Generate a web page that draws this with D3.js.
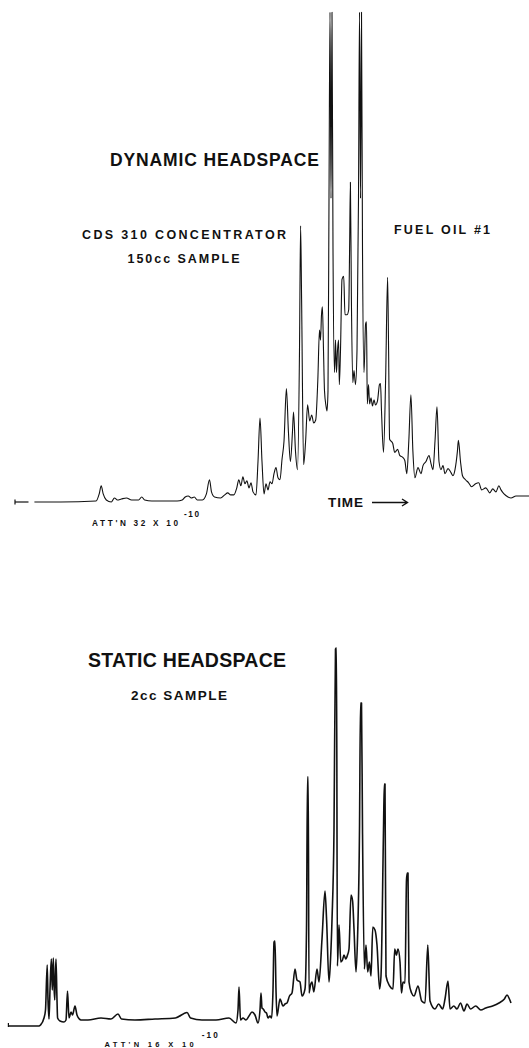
<!DOCTYPE html>
<html>
<head>
<meta charset="utf-8">
<script src="https://cdn.jsdelivr.net/npm/d3@7"></script>
<style>
  body { margin: 0; background: #fff; }
  svg { display: block; }
  .lbl { font-family: "Liberation Sans", Arial, sans-serif; font-weight: bold; fill: #111; }
</style>
</head>
<body>
<div id="chart"></div>
<script>
var svgWidth = 529;
var svgHeight = 1048;

// Dynamic headspace trace: [time, detector response]
var dynamicTrace = [
  [34.4,0],[60.7,0],[96.1,1],[99.2,8],[101.2,16],[103.2,8],[106.3,2],[111.3,0],[114.4,4],[117.4,2],
  [121.4,3],[126.5,4],[131.6,2],[138.6,2],[141.7,5],[144.7,2],[151.8,1],[161.9,1],[177.1,1],[182.2,2],
  [185.2,5],[188.2,6],[191.3,4],[194.3,5],[197.3,2],[202.4,2],[206.4,8],[209.5,22],[211.5,10],[214.5,5],
  [220.6,4],[224.7,7],[227.7,9],[230.7,7],[233.8,7],[236.8,14],[238.8,22],[240.9,16],[242.9,25],[244.9,18],
  [246.9,21],[249,14],[251,19],[253,10],[256,7],[258,40],[260,83],[262,40],[264,8],[266,18],
  [268,12],[270,20],[272,18],[274,28],[276,34],[278,24],[280,22],[282,42],[284,60],[286.4,112],
  [288.4,70],[290.4,40],[292.5,70],[293.5,89],[295.5,50],[297.5,32],[299.5,150],[300.6,273],[301.6,200],[303.6,37],
  [305.6,60],[307.6,96],[309.7,80],[311.7,86],[313.7,78],[315.7,81],[317.8,120],[319.5,170],[320.5,160],[321.5,185],
  [322.4,193],[323.5,150],[324.5,110],[326,95],[327,90],[328,110],[329,300],[330,484],[331,300],[332,484],
  [333,250],[334.5,128],[335.5,160],[336.5,128],[337.5,150],[338.6,160],[339.3,116],[340.5,150],[342,220],[343.7,223],
  [345,185],[347,185],[348.7,190],[349.6,250],[350.4,316],[351.4,200],[352.8,118],[354,130],[355.5,116],[357,150],
  [358.5,300],[359.5,484],[360.5,300],[361.5,484],[362.5,250],[364,128],[365.6,176],[366.5,178],[367.3,97],[368.5,116],
  [369.6,97],[371,103],[372.5,95],[374,101],[375.5,96],[377.5,100],[379.5,116],[380.5,117],[381.5,90],[383.5,49],
  [385.6,120],[387.6,222],[388.6,150],[389.6,62],[392.7,58],[394.7,49],[397.7,52],[399.7,46],[402.8,44],[404.8,41],
  [406.8,28],[408.8,60],[410.9,106],[412.9,50],[414.9,24],[418,34],[421,28],[423,36],[426,40],[429,46],
  [431,38],[433,32],[435,60],[437,94],[439,40],[441,32],[443,36],[445,28],[448,33],[451,29],
  [453,26],[455,32],[457.4,50],[458.4,61],[460.5,40],[462.5,26],[465.5,22],[468.6,19],[471.6,15],[475.6,18],
  [478.7,19],[481.7,12],[485.8,14],[489.8,9],[492.8,13],[495.9,10],[498.9,16],[501,12],[504,8],[508,5],
  [511,4],[516,6],[521,6],[526,6],[529,6]
];
var dynamicStart = [[15,0],[28.5,0]];

// Static headspace trace: [time, detector response]
var staticTrace = [
  [8.4,4],[39,4],[40.5,5],[44,12],[45.5,20],[47.2,65],[48,30],[49,11],[50,40],[51.3,71],
  [52.3,40],[53.3,72],[54,45],[54.7,30],[55.3,50],[56,71],[57,30],[57.6,12],[60,9],[64,8],
  [66,10],[67.5,39],[69,12],[71,18],[72.5,15],[75,24],[77,15],[81,10],[88,10],[101,12],
  [111,11],[118,16],[121.5,11],[135,10],[155,11],[175.4,12],[187,17.5],[190.6,12],[202,10],[216,10],
  [229,12],[236,7],[238,20],[239,43],[240.5,10],[243,12],[246,10],[249,14],[252,18],[255,15],
  [258,7],[260,20],[261,37],[262,22],[263.2,21],[265,18],[266.5,17],[268,12],[270,14],[271.6,12],
  [273,40],[274,88],[275,89],[276,40],[277,14],[280,31],[283,24],[285,26],[287,27],[289.5,34],
  [292,37],[295,61],[297,50],[300,48],[302,34],[305,41],[306.5,100],[307.5,253],[308.2,253],[309,37],
  [310.5,45],[312,48],[313.8,38],[317,61],[319,48],[322,91],[325,139],[326.6,110],[329,48],[330.5,70],
  [332,110],[334,200],[335.5,381],[336.5,382],[337.4,64],[339,105],[340.8,68],[342.5,70],[344,75],[345.8,71],
  [347.5,75],[349,81],[351,135],[352.6,129],[354,101],[356,58],[357.6,94],[359.5,200],[360.5,327],[361.5,327],
  [362.5,200],[364.4,61],[366,85],[367.7,58],[369.4,68],[371,54],[372.8,103],[375,100],[377,85],[379.6,41],
  [381,54],[383.5,200],[384.3,246],[385,246],[386,54],[389.7,44],[393,41],[394.7,81],[396.4,75],[398,81],
  [400,68],[401.5,37],[403,48],[405,47],[406.5,150],[407.3,157],[408,157],[409,48],[411.6,37],[414,34],
  [418,44],[421.7,29],[425,27],[427.8,85],[430,29],[435,21],[438.6,26],[442.6,21],[445,31],[448,49],
  [450,21],[453.8,24],[457,21],[460.5,27],[464,19],[467,26],[470.6,21],[475.7,24],[480.8,20],[485.8,22],
  [492.6,24],[499,27],[504.4,31],[507,35],[509.4,31],[511,27]
];
var staticStart = [[8.4,4],[12,4]];

var titles = ["DYNAMIC HEADSPACE", "STATIC HEADSPACE"];
var notes = ["CDS 310 CONCENTRATOR", "150cc SAMPLE", "FUEL OIL #1", "2cc SAMPLE"];
var attLabels = ["ATT'N 32 X 10", "ATT'N 16 X 10"];
var attExp = "-10";
var axisLabel = "TIME";

var svg = d3.select("#chart")
  .append("svg")
  .attr("width", svgWidth)
  .attr("height", svgHeight);

svg.append("rect").attr("width", svgWidth).attr("height", svgHeight).attr("fill", "#fff");

// shared time scale, one response scale per chromatogram
var xScale = d3.scaleLinear().domain([0, 529]).range([0, 529]);
var yTop = d3.scaleLinear().domain([0, 500]).range([502, -4]);
var yBottom = d3.scaleLinear().domain([0, 400]).range([1030, 630]);

var lineTop = d3.line()
  .x(d => xScale(d[0]))
  .y(d => yTop(d[1]))
  .curve(d3.curveMonotoneX);

var lineBottom = d3.line()
  .x(d => xScale(d[0]))
  .y(d => yBottom(d[1]))
  .curve(d3.curveMonotoneX);

svg.append("path")
  .datum(dynamicTrace)
  .attr("d", lineTop)
  .attr("fill", "none")
  .attr("stroke", "#111")
  .attr("stroke-width", 1.1)
  .attr("stroke-linejoin", "round");

svg.append("path")
  .datum(dynamicStart)
  .attr("d", d3.line().x(d => xScale(d[0])).y(d => yTop(d[1])))
  .attr("fill", "none")
  .attr("stroke", "#111")
  .attr("stroke-width", 1.2);

svg.append("line")
  .attr("x1", xScale(dynamicStart[0][0])).attr("x2", xScale(dynamicStart[0][0]))
  .attr("y1", yTop(0) - 2.5).attr("y2", yTop(0) + 2.5)
  .attr("stroke", "#111").attr("stroke-width", 1.2);

svg.append("path")
  .datum(staticTrace)
  .attr("d", lineBottom)
  .attr("fill", "none")
  .attr("stroke", "#111")
  .attr("stroke-width", 1.6)
  .attr("stroke-linejoin", "round");

svg.append("line")
  .attr("x1", xScale(staticStart[0][0])).attr("x2", xScale(staticStart[0][0]))
  .attr("y1", yBottom(staticStart[0][1]) - 3).attr("y2", yBottom(staticStart[0][1]) + 1)
  .attr("stroke", "#111").attr("stroke-width", 1.2);

// labels
function label(text, x, y, size, width) {
  var t = svg.append("text")
    .attr("class", "lbl")
    .attr("x", x)
    .attr("y", y)
    .attr("font-size", size)
    .text(text);
  if (width) t.attr("textLength", width).attr("lengthAdjust", "spacing");
  return t;
}

label(titles[0], 110, 166, 17.5, 209);
label(notes[0], 82, 238.5, 12.5, 204);
label(notes[1], 127.5, 262.8, 12.5, 112);
label(notes[2], 394, 233.5, 12.5, 96);
label(axisLabel, 328, 506.5, 13.5, 35);
label(attLabels[0], 92, 526, 8.2, 86);
label(attExp, 184, 516.5, 8.2, 15);

// TIME arrow
svg.append("path")
  .attr("d", "M372,502.5H407.5M402,499L407.5,502.5L402,506")
  .attr("fill", "none")
  .attr("stroke", "#111")
  .attr("stroke-width", 1.4);

label(titles[1], 88, 666.7, 19.5, 198);
label(notes[3], 131, 700.4, 13.5, 96);
label(attLabels[1], 104.6, 1046.5, 7.5, 89);
label(attExp, 201.7, 1038, 8.2, 16);
</script>
</body>
</html>
